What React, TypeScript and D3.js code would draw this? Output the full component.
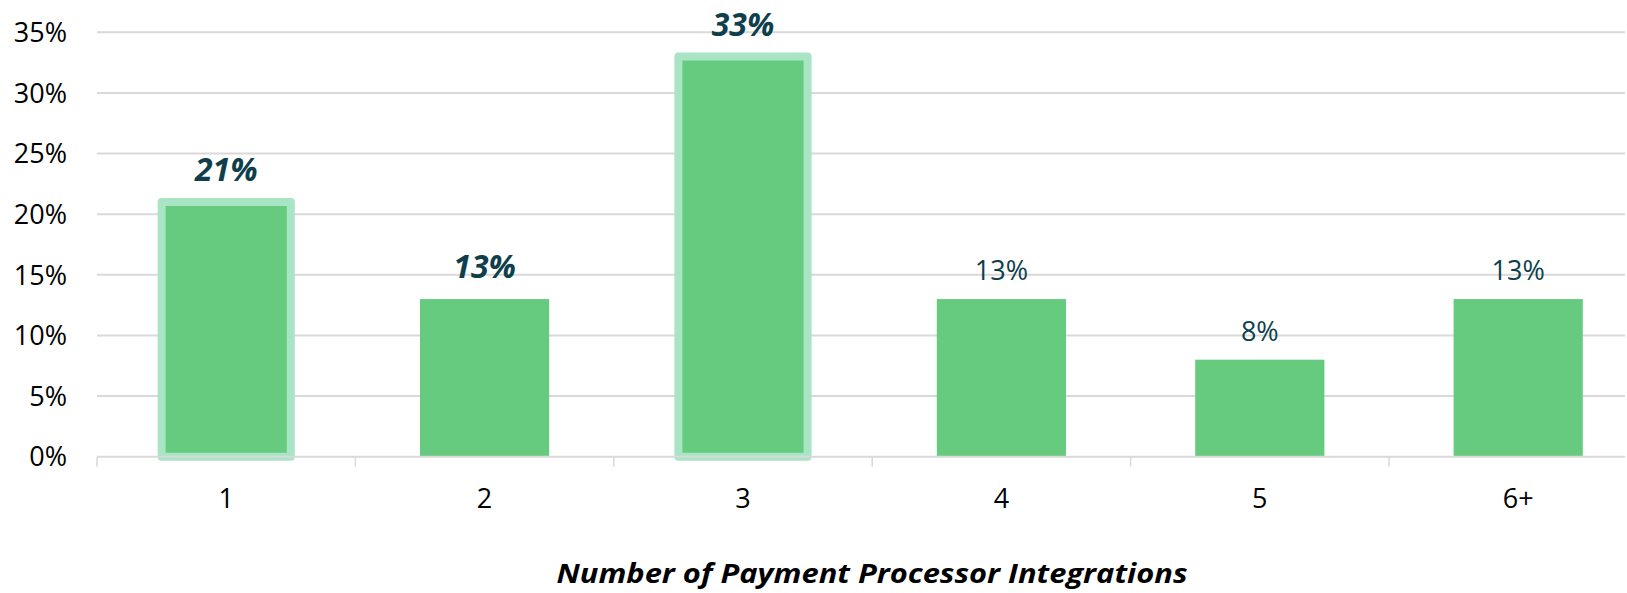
import React, { useEffect, useRef } from "react";
import * as d3 from "d3";

// categories and values
const categories = ["1", "2", "3", "4", "5", "6+"];
const shares = [21, 13, 33, 13, 8, 13];
const yTicks = [0, 5, 10, 15, 20, 25, 30, 35];
// categories called out in the chart
const highlightedBars = ["1", "3"];
const boldLabels = ["1", "2", "3"];
const xTitle = "Number of Payment Processor Integrations";

const App = () => {
  const svgRef = useRef<SVGSVGElement>(null);

  useEffect(() => {
    const width = 1627;
    const height = 593;
    const margins = { left: 97, top: 32.3, bottom: 136.3 };
    // the category axis runs past the right edge of the picture
    const bandStep = 258.4;
    const axisWidth = bandStep * categories.length;
    const visibleWidth = 1625 - margins.left;
    const ctrHeight = height - margins.top - margins.bottom;

    const svg = d3.select(svgRef.current)
      .attr("width", width)
      .attr("height", height)
      .style("background-color", "#ffffff");
    svg.selectAll("*").remove();

    const ctr = svg.append("g")
      .attr("transform", `translate(${margins.left}, ${margins.top})`);

    // Scales
    const xScale = d3.scaleBand()
      .domain(categories)
      .range([0, axisWidth])
      .paddingInner(0.5)
      .paddingOuter(0.25);

    const yScale = d3.scaleLinear()
      .domain([0, 35])
      .range([ctrHeight, 0]);

    // Gridlines
    ctr.append("g")
      .selectAll("line")
      .data(yTicks.filter((t) => t > 0))
      .join("line")
      .attr("x1", 0)
      .attr("x2", visibleWidth)
      .attr("y1", (d) => yScale(d))
      .attr("y2", (d) => yScale(d))
      .attr("stroke", "#d9d9d9")
      .attr("stroke-width", 2);

    // Y labels
    ctr.append("g")
      .selectAll("text")
      .data(yTicks)
      .join("text")
      .attr("x", -30)
      .attr("y", (d) => yScale(d))
      .attr("dy", "0.36em")
      .attr("text-anchor", "end")
      .attr("font-family", "'Open Sans', sans-serif")
      .attr("font-size", 27)
      .attr("fill", "#000000")
      .text((d) => `${d}%`);

    // Bars
    const data = categories.map((c, i) => ({ cat: c, value: shares[i] }));

    ctr.append("g")
      .selectAll("rect")
      .data(data)
      .join("rect")
      .attr("x", (d) => xScale(d.cat)!)
      .attr("y", (d) => yScale(d.value))
      .attr("width", xScale.bandwidth())
      .attr("height", (d) => ctrHeight - yScale(d.value))
      .attr("fill", "#66cb7f")
      .attr("stroke", (d) => highlightedBars.includes(d.cat) ? "#a9e5c5" : "none")
      .attr("stroke-width", 8)
      .attr("stroke-linejoin", "round");

    // Baseline axis with ticks between categories
    const axis = ctr.append("g").attr("transform", `translate(0, ${ctrHeight})`);
    axis.append("line")
      .attr("x1", 0)
      .attr("x2", visibleWidth)
      .attr("stroke", "#d9d9d9")
      .attr("stroke-width", 2);
    axis.selectAll("line.tick")
      .data(d3.range(categories.length).map((i) => i * xScale.step()))
      .join("line")
      .attr("class", "tick")
      .attr("x1", (d) => d)
      .attr("x2", (d) => d)
      .attr("y1", 0)
      .attr("y2", 10)
      .attr("stroke", "#d9d9d9")
      .attr("stroke-width", 1.5);

    // X labels
    ctr.append("g")
      .selectAll("text")
      .data(categories)
      .join("text")
      .attr("x", (d) => xScale(d)! + xScale.bandwidth() / 2)
      .attr("y", ctrHeight + 51.5)
      .attr("text-anchor", "middle")
      .attr("font-family", "'Open Sans', sans-serif")
      .attr("font-size", 27)
      .attr("fill", "#000000")
      .text((d) => d);

    // Value labels
    ctr.append("g")
      .selectAll("text")
      .data(data)
      .join("text")
      .attr("x", (d) => xScale(d.cat)! + xScale.bandwidth() / 2)
      .attr("y", (d) => yScale(d.value) - (boldLabels.includes(d.cat) ? 21 : 19))
      .attr("text-anchor", "middle")
      .attr("font-family", "'Open Sans', sans-serif")
      .attr("font-size", (d) => boldLabels.includes(d.cat) ? 32 : 27)
      .attr("font-weight", (d) => boldLabels.includes(d.cat) ? 700 : 400)
      .attr("font-style", (d) => boldLabels.includes(d.cat) ? "italic" : "normal")
      .attr("fill", "#0f3f4c")
      .text((d) => `${d.value}%`);

    // Axis title
    svg.append("text")
      .attr("x", 872)
      .attr("y", 583)
      .attr("text-anchor", "middle")
      .attr("font-family", "'Open Sans', sans-serif")
      .attr("font-size", 26)
      .attr("font-weight", 700)
      .attr("font-style", "italic")
      .attr("fill", "#000000")
      .attr("textLength", 631)
      .attr("lengthAdjust", "spacingAndGlyphs")
      .text(xTitle);
  }, []);

  return (
    <svg ref={svgRef} style={{ position: "absolute", left: 0, top: 0 }}></svg>
  );
};

export default App;
